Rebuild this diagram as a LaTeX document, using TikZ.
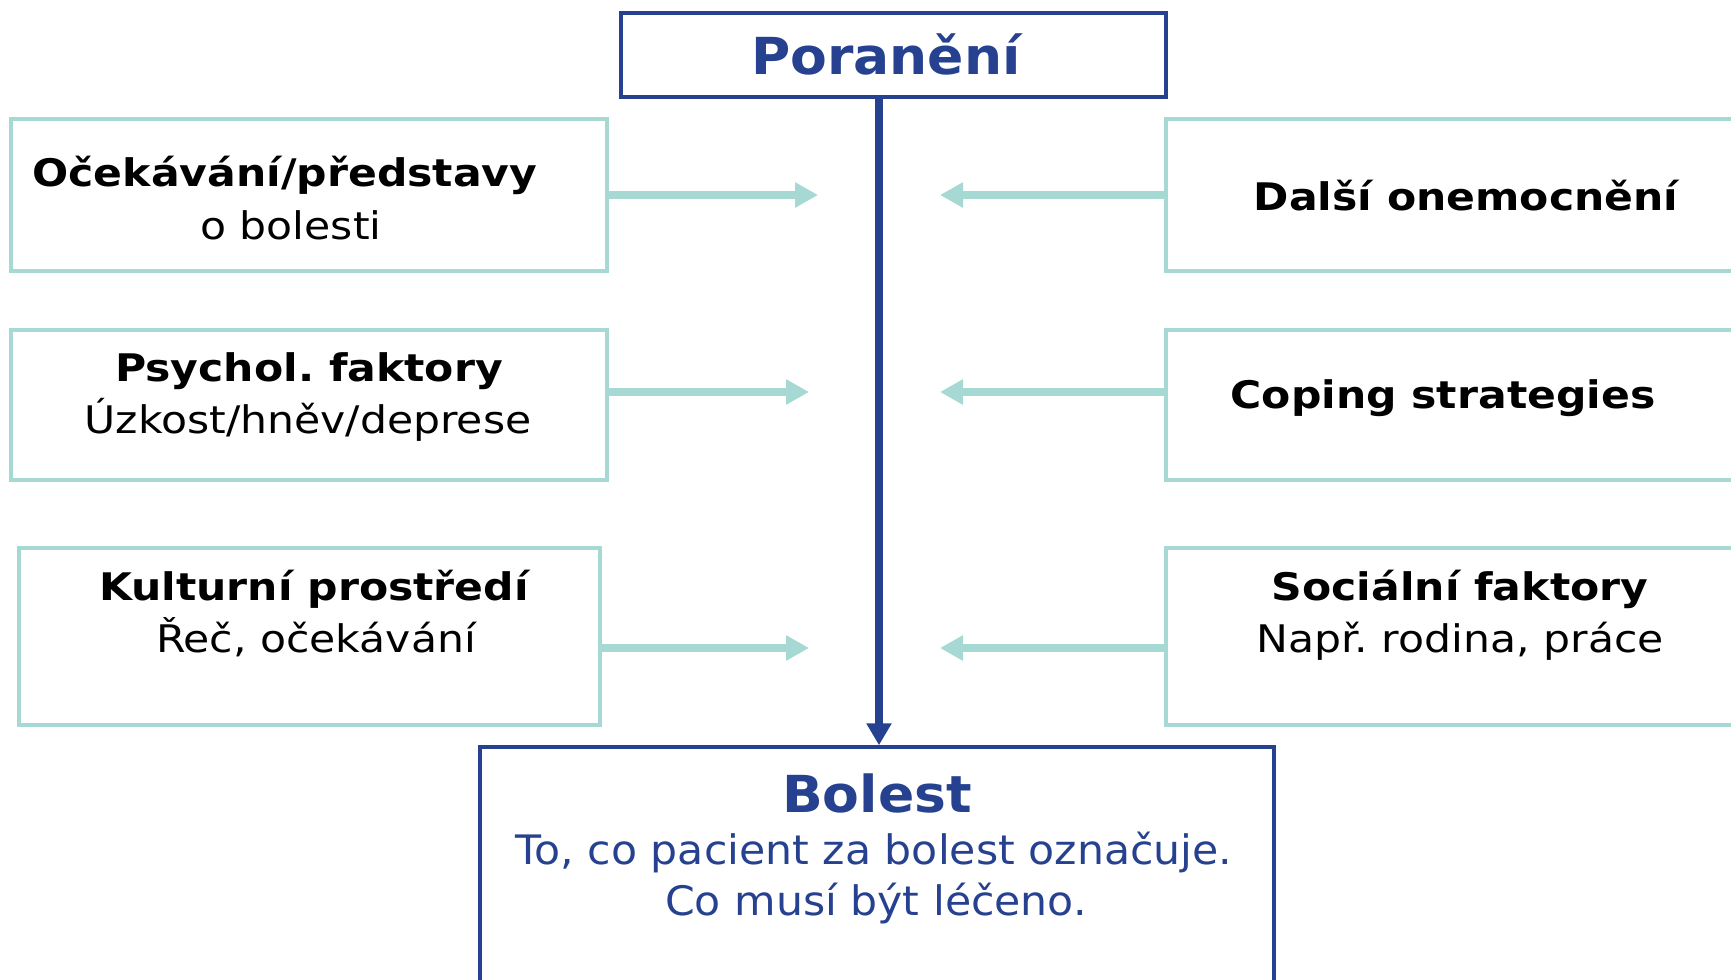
\documentclass[tikz,border=0pt]{standalone}
\usepackage{fontspec}
\setmainfont{DejaVu Sans}
\newfontfamily\sidefont[FakeStretch=1.12]{DejaVu Sans}
\newfontfamily\bluefnt[FakeStretch=1.05]{DejaVu Sans}
\usetikzlibrary{arrows.meta}
\definecolor{dblue}{RGB}{38,65,143}
\definecolor{tealc}{RGB}{166,217,212}
\frenchspacing
\begin{document}
\begin{tikzpicture}[x=0.5pt,y=-0.5pt,
  tealbox/.style={draw=tealc,line width=1.75pt,rectangle,inner sep=0pt},
  bluebox/.style={draw=dblue,line width=1.75pt,rectangle,inner sep=0pt},
  sidehead/.style={anchor=base,inner sep=0pt,font=\sidefont\bfseries\fontsize{19pt}{19pt}\selectfont},
  sidetext/.style={anchor=base,inner sep=0pt,font=\sidefont\fontsize{19pt}{19pt}\selectfont},
  bluehead/.style={anchor=base,inner sep=0pt,text=dblue,font=\bluefnt\bfseries\fontsize{25.5pt}{25.5pt}\selectfont},
  bluetext/.style={anchor=base,inner sep=0pt,text=dblue,font=\bluefnt\fontsize{20.3pt}{20.3pt}\selectfont},
  tealarrow/.style={draw=tealc,line width=4pt,-{Triangle[length=11.5pt,width=12pt]}},
  bluearrow/.style={draw=dblue,line width=4pt,-{Triangle[length=11pt,width=12pt]}}
]
\useasboundingbox (0,0) rectangle (1731,980);
\clip (0,0) rectangle (1731,980);

% boxes
\node[bluebox,minimum width=272.5pt,minimum height=42pt] (por) at (893.5,55) {};
\node[bluebox,minimum width=397pt,minimum height=131.5pt] (bol) at (877,878.5) {};

\node[tealbox,minimum width=298pt,minimum height=76pt] (exp) at (309,195) {};
\node[tealbox,minimum width=298pt,minimum height=75pt] (psy) at (309,405) {};
\node[tealbox,minimum width=290.5pt,minimum height=88.5pt] (kul) at (309.5,636.5) {};

\node[tealbox,minimum width=294pt,minimum height=76pt] (dal) at (1460,195) {};
\node[tealbox,minimum width=294pt,minimum height=75pt] (cop) at (1460,405) {};
\node[tealbox,minimum width=294pt,minimum height=88.5pt] (soc) at (1460,636.5) {};

% texts
\node[bluehead] (porT) at (886,74) {Poranění};
\node[bluehead] (bolT) at (877,812) {Bolest};
\node[bluetext] (bolA) at (874,864) {To, co pacient za bolest označuje.};
\node[bluetext] (bolB) at (876,915) {Co musí být léčeno.};

\node[sidehead] (expT) at (285,186) {Očekávání/představy};
\node[sidetext] (expS) at (291,239) {o bolesti};
\node[sidehead] (psyT) at (309,381) {Psychol. faktory};
\node[sidetext] (psyS) at (308,433) {Úzkost/hněv/deprese};
\node[sidehead] (kulT) at (314,600) {Kulturní prostředí};
\node[sidetext] (kulS) at (316,652) {Řeč, očekávání};

\node[sidehead] (dalT) at (1466,210) {Další onemocnění};
\node[sidehead] (copT) at (1443,408) {Coping strategies};
\node[sidehead] (socT) at (1460,600) {Sociální faktory};
\node[sidetext] (socS) at (1460,652) {Např. rodina, práce};

% arrow end points
\coordinate (a1) at (818,195);
\coordinate (a2) at (809,392);
\coordinate (a3) at (809,648);
\coordinate (b1) at (940,195);
\coordinate (b2) at (940,392);
\coordinate (b3) at (940,648);
\coordinate (vx) at (879,0);

\draw[tealarrow] (exp.east |- a1) -- (a1);
\draw[tealarrow] (psy.east |- a2) -- (a2);
\draw[tealarrow] (kul.east |- a3) -- (a3);
\draw[tealarrow] (dal.west |- b1) -- (b1);
\draw[tealarrow] (cop.west |- b2) -- (b2);
\draw[tealarrow] (soc.west |- b3) -- (b3);

\draw[bluearrow] (por.south -| vx) -- (bol.north -| vx);
\end{tikzpicture}
\end{document}
